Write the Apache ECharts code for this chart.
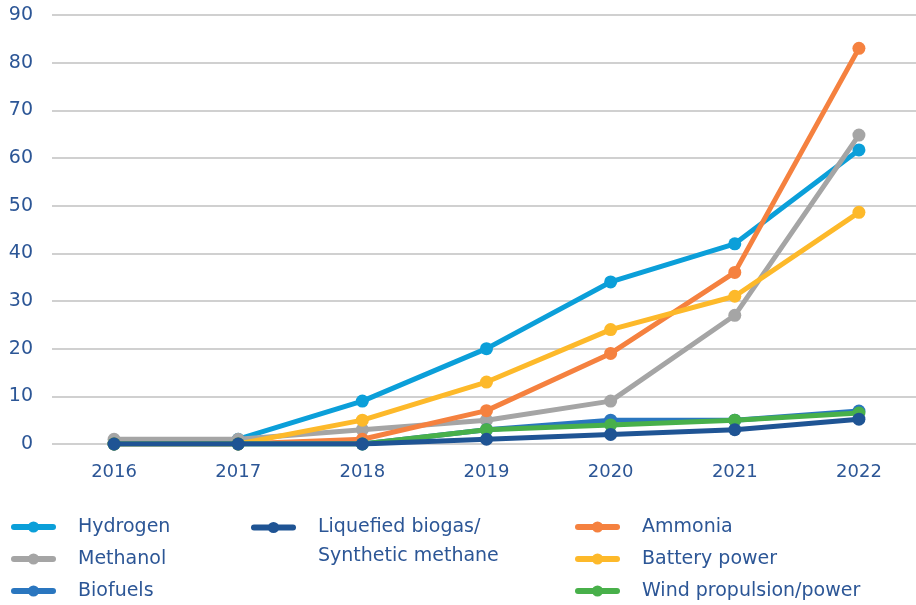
<!DOCTYPE html>
<html>
<head>
<meta charset="utf-8">
<script src="https://cdn.jsdelivr.net/npm/echarts@6/dist/echarts.min.js"></script>
<style>html,body{margin:0;padding:0;background:#fff;overflow:hidden}#c{width:921px;height:605px}</style>
</head>
<body>
<div id="c"></div>
<script>
var years = ['2016','2017','2018','2019','2020','2021','2022'];
var hydrogen = [0, 1, 9, 20, 34, 42, 61.7];
var methanol = [1, 1, 3, 5, 9, 27, 64.8];
var biofuels = [0, 0, 0, 3, 5, 5, 6.9];
var liquefiedBiogas = [0, 0, 0, 1, 2, 3, 5.2];
var ammonia = [0, 0, 1, 7, 19, 36, 83];
var battery = [0, 0, 5, 13, 24, 31, 48.6];
var wind = [0, 0, 0, 3, 4, 5, 6.5];
var yTicks = [0, 90, 10];

var textColor = '#2c5696';
var font = 'DejaVu Sans';

function mk(name, data, color, z) {
  return {
    name: name, type: 'line', data: data, z: z,
    symbol: 'circle', symbolSize: 13,
    lineStyle: {width: 5, color: color},
    itemStyle: {color: color},
    emphasis: {disabled: true},
    animation: false
  };
}

function legend(extra, textExtra) {
  return Object.assign({
    orient: 'vertical',
    padding: 0,
    itemWidth: 39, itemHeight: 14,
    itemGap: 10,
    bottom: 0,
    selectedMode: false,
    lineStyle: {width: 6, cap: 'round'},
    textStyle: Object.assign({color: textColor, fontFamily: font, fontSize: 19, lineHeight: 22, padding: [0,0,0,20]}, textExtra || {})
  }, extra);
}

var chart = echarts.init(document.getElementById('c'), null, {renderer: 'canvas'});
chart.setOption({
  animation: false,
  grid: {left: 52, top: 15, height: 429, right: 0},
  xAxis: {
    type: 'category', data: years, boundaryGap: true,
    axisLine: {show: false}, axisTick: {show: false},
    axisLabel: {color: textColor, fontFamily: font, fontSize: 18, margin: 19}
  },
  yAxis: {
    type: 'value', min: yTicks[0], max: yTicks[1], interval: yTicks[2],
    axisLine: {show: false}, axisTick: {show: false},
    axisLabel: {color: textColor, fontFamily: font, fontSize: 19, margin: 19},
    splitLine: {lineStyle: {color: '#d0d0d0', width: 2}}
  },
  legend: [
    legend({left: 11, top: 516, data: ['Hydrogen', 'Methanol', 'Biofuels']}),
    legend({left: 251, top: 484, data: ['Liquefied biogas/\nSynthetic methane'],
      formatter: function (n) { return ' \n' + n; }}, {lineHeight: 29}),
    legend({left: 575, top: 516, data: ['Ammonia', 'Battery power', 'Wind propulsion/power']})
  ],
  series: [
    mk('Hydrogen', hydrogen, '#0b9fd9', 2),
    mk('Methanol', methanol, '#a5a5a5', 3),
    mk('Ammonia', ammonia, '#f5813f', 4),
    mk('Battery power', battery, '#fdb92a', 5),
    mk('Biofuels', biofuels, '#2a76bf', 6),
    mk('Wind propulsion/power', wind, '#48b04a', 7),
    mk('Liquefied biogas/\nSynthetic methane', liquefiedBiogas, '#1f5494', 8)
  ]
});
</script>
</body>
</html>
